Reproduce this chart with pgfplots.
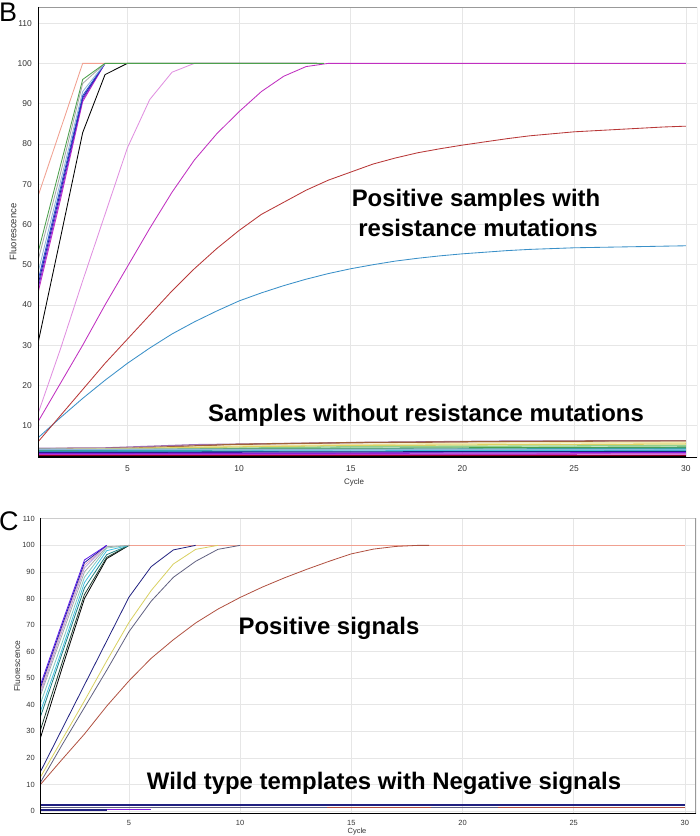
\documentclass[border=0pt]{standalone}
\usepackage{pgfplots}
\pgfplotsset{compat=1.18}
\usepackage{fontspec}
\setmainfont{Liberation Sans}
\definecolor{tickgray}{HTML}{333333}
\definecolor{gridgray}{HTML}{E6E6E6}
\definecolor{salmon}{HTML}{F0A090}
\definecolor{cgreen}{HTML}{4CA04C}
\definecolor{cgrey}{HTML}{A8A8A8}
\definecolor{clblue}{HTML}{8FB8D8}
\definecolor{cblue}{HTML}{3050D0}
\definecolor{cdblue}{HTML}{2020A0}
\definecolor{cpurple}{HTML}{8020E0}
\definecolor{cmag}{HTML}{C030C0}
\definecolor{corchid}{HTML}{E090E0}
\definecolor{cred}{HTML}{B83838}
\definecolor{csky}{HTML}{3A90C8}
\definecolor{cmauve}{HTML}{A070B0}
\definecolor{cbrown}{HTML}{A0603A}
\definecolor{clyel}{HTML}{F0E8B0}
\definecolor{cyel}{HTML}{E0D060}
\definecolor{clgreen}{HTML}{90D090}
\definecolor{cteal}{HTML}{30A0A0}
\definecolor{ccyan}{HTML}{40C0E0}
\definecolor{cnavy}{HTML}{202080}
\definecolor{cdred}{HTML}{900020}
\definecolor{cslate}{HTML}{606080}
\definecolor{cyellow}{HTML}{D8D060}
\definecolor{cbrownred}{HTML}{B05040}
\definecolor{cpink}{HTML}{E0A0C0}
\definecolor{clav}{HTML}{B0A0E0}
\definecolor{ctealL}{HTML}{80C8C0}
\definecolor{ctealD}{HTML}{208080}
\definecolor{cdgreen}{HTML}{204030}
\begin{document}
\begin{tikzpicture}[x=1bp,y=1bp]
\useasboundingbox (0,0) rectangle (700,836);
% ---------------- Panel B ----------------
\begin{axis}[
  at={(38bp,378bp)}, anchor=south west,
  scale only axis, width=659bp, height=451bp,
  xmin=1, xmax=30.5, ymin=2, ymax=114,
  xtick={5,10,...,30}, ytick={10,20,...,110},
  major tick length=0pt,
  grid=major, major grid style={color=gridgray, line width=0.6bp},
  axis line style={draw=none},
  /pgf/number format/assume math mode=true,
  xticklabel style={font=\fontsize{8.5}{9}\selectfont, text=tickgray, inner sep=0pt, yshift=-7bp},
  yticklabel style={font=\fontsize{8.5}{9}\selectfont, text=tickgray, inner sep=0pt, xshift=-6bp},
  every axis plot/.append style={line width=0.85bp},
]
% bottom cluster
\addplot[cmauve, line width=1.3bp] coordinates {(1,4.4)(4,4.5)(6,4.9)(8,5.3)(12,5.6)(16,5.9)(22,6.2)(30,6.3)};
\addplot[cbrown, line width=1.3bp] coordinates {(1,4.3)(5,4.4)(8,5.0)(10,5.4)(15,5.8)(20,6.0)(26,6.2)(30,6.2)};
\addplot[clyel, line width=1.3bp] coordinates {(1,4.1)(6,4.4)(10,5.0)(16,5.4)(22,5.7)(30,5.9)};
\addplot[cyel, line width=1.3bp] coordinates {(1,4.0)(8,4.6)(15,5.1)(30,5.5)};
\addplot[clgreen, line width=1.3bp] coordinates {(1,3.9)(8,4.3)(15,4.8)(30,5.1)};
\addplot[cgreen, line width=1.3bp] coordinates {(1,3.8)(5,4.0)(10,4.3)(30,4.7)};
\addplot[cteal, line width=1.3bp] coordinates {(1,3.7)(10,4.0)(30,4.4)};
\addplot[clblue, line width=1.3bp] coordinates {(1,4.2)(30,4.1)};
\addplot[ccyan, line width=1.3bp] coordinates {(1,3.6)(30,3.9)};
\addplot[cnavy, line width=1.3bp] coordinates {(1,3.4)(30,3.6)};
\addplot[cpurple, line width=1.3bp] coordinates {(1,3.1)(30,3.3)};
\addplot[cmag, line width=1.3bp] coordinates {(1,2.8)(30,3.0)};
\addplot[cdred, line width=1.3bp] coordinates {(1,2.6)(30,2.6)};
\addplot[black, line width=1.3bp] coordinates {(1,2.3)(30,2.3)};
% sky blue
\addplot[csky] coordinates {(1,7)(2,12)(3,16.8)(4,21.3)(5,25.5)(6,29.3)(7,32.8)(8,35.8)(9,38.5)(10,41)(11,43)(12,44.8)(13,46.4)(14,47.8)(15,49)(16,50)(17,50.9)(18,51.6)(19,52.2)(20,52.7)(21,53.1)(22,53.5)(23,53.8)(24,54)(25,54.2)(26,54.3)(27,54.4)(28,54.5)(29,54.6)(30,54.7)};
% red
\addplot[cred] coordinates {(1,6)(2,12.5)(3,19)(4,25.5)(5,31.5)(6,37.5)(7,43.5)(8,49)(9,54)(10,58.5)(11,62.5)(12,65.5)(13,68.5)(14,71)(15,73)(16,75)(17,76.5)(18,77.8)(19,78.8)(20,79.7)(21,80.5)(22,81.3)(23,82)(24,82.5)(25,83)(26,83.3)(27,83.6)(28,83.9)(29,84.2)(30,84.4)};
% magenta long
\addplot[cmag] coordinates {(1,11)(2,20.5)(3,30)(4,40)(5,49.5)(6,59)(7,68)(8,76)(9,82.5)(10,88)(11,93)(12,96.8)(13,99.2)(14,100)(30,100)};
% orchid
\addplot[corchid] coordinates {(1,13)(2,29)(3,46)(4,62.5)(5,79)(6,91)(7,97.8)(8,100)(13.5,100)};
% black
\addplot[black] coordinates {(1,30.5)(2,56.5)(3,82.8)(4,97.2)(5,100)(13.5,100)};
% salmon
\addplot[salmon] coordinates {(1,67)(2,83.5)(3,100)(5,100)};
% steep cluster
\addplot[cmag] coordinates {(1,43)(2,66)(3,90.5)(4,100)};
\addplot[cpurple] coordinates {(1,44)(2,67)(3,91)(4,100)};
\addplot[cdblue] coordinates {(1,45)(2,68)(3,91.5)(4,100)};
\addplot[cblue] coordinates {(1,46)(2,69)(3,92)(4,100)};
\addplot[clblue] coordinates {(1,48)(2,70.5)(3,93)(4,100)};
\addplot[cgrey] coordinates {(1,51)(2,72.5)(3,95)(4,100)};
\addplot[cgreen] coordinates {(1,53)(2,74.5)(3,96)(4,100)(13.8,100)};
\draw[gray!80, line width=0.9bp] (rel axis cs:0,1) -- (rel axis cs:1,1) -- (rel axis cs:1,0);
\draw[black, line width=1.8bp] (rel axis cs:0,1) -- (rel axis cs:0,0) -- (rel axis cs:1,0);
\end{axis}
\node[rotate=90, font=\fontsize{9.5}{10}\selectfont, text=tickgray] at (13,604) {Fluorescence};
\node[font=\fontsize{8}{9}\selectfont, text=tickgray] at (354,354) {Cycle};
\node[anchor=base, font=\fontsize{24}{26}\bfseries\selectfont] at (476,629) {Positive samples with};
\node[anchor=base, font=\fontsize{24}{26}\bfseries\selectfont] at (478,599) {resistance mutations};
\node[anchor=base, font=\fontsize{24}{26}\bfseries\selectfont] at (426,414) {Samples without resistance mutations};
\node[anchor=base west, inner sep=0pt, font=\fontsize{27}{29}\selectfont] at (-1,814) {B};
% ---------------- Panel C ----------------
\begin{axis}[
  at={(40bp,22bp)}, anchor=south west,
  scale only axis, width=656bp, height=296bp,
  xmin=1, xmax=30.5, ymin=-1.1, ymax=110.3,
  xtick={5,10,...,30}, ytick={0,10,...,110},
  major tick length=0pt,
  grid=major, major grid style={color=gridgray, line width=0.6bp},
  axis line style={draw=none},
  /pgf/number format/assume math mode=true,
  xticklabel style={font=\fontsize{7.5}{8}\selectfont, text=tickgray, inner sep=0pt, yshift=-6bp},
  yticklabel style={font=\fontsize{7.5}{8}\selectfont, text=tickgray, inner sep=0pt, xshift=-5bp},
  every axis plot/.append style={line width=0.8bp},
]
% bottom lines
\addplot[cnavy, line width=1.2bp] coordinates {(1,2.3)(30,2.3)};
\addplot[cslate, line width=1.4bp] coordinates {(1,1.3)(13.9,1.3)};
\addplot[cbrownred, line width=1.4bp] coordinates {(13.9,1.3)(18.6,1.3)};
\addplot[cslate, line width=1.4bp] coordinates {(18.6,1.3)(21.6,1.3)};
\addplot[cbrownred, line width=1.4bp] coordinates {(21.6,1.3)(30,1.3)};
\addplot[cpurple, line width=1.2bp] coordinates {(4,0.6)(6,0.6)};
\addplot[cnavy, line width=1.2bp] coordinates {(1,0.4)(4,0.4)};
% top salmon line
\addplot[salmon] coordinates {(5,100)(30,100)};
% brown-red
\addplot[cbrownred] coordinates {(1,9.8)(2,19.5)(3,29)(4,39.5)(5,49)(6,57.5)(7,64.5)(8,70.8)(9,76)(10,80.4)(11,84.3)(12,87.8)(13,91)(14,94)(15,96.8)(16,98.6)(17,99.6)(18,100)(18.5,100)};
% slate
\addplot[cslate] coordinates {(1,10.5)(2,25)(3,39)(4,53)(5,67.5)(6,79)(7,88)(8,94)(9,98.5)(10,100)};
% yellow
\addplot[cyellow] coordinates {(1,12.5)(2,27)(3,41.5)(4,56.5)(5,71)(6,83)(7,93)(8,98.5)(9,100)};
% navy
\addplot[cnavy] coordinates {(1,14.5)(2,31)(3,47.5)(4,64)(5,80.5)(6,92)(7,98.3)(8,100)};
% steep cluster
\addplot[black] coordinates {(1,27)(2,54)(3,80)(4,95)(5,100)};
\addplot[cdgreen] coordinates {(1,30)(2,56)(3,81.5)(4,95.5)(5,100)};
\addplot[ctealD] coordinates {(1,35)(2,59.5)(3,84)(4,96.5)(5,100)};
\addplot[ccyan] coordinates {(1,37)(2,61)(3,86)(4,98)(5,100)};
\addplot[ctealL] coordinates {(1,40)(2,63.5)(3,88)(4,99)(5,100)};
\addplot[cgrey] coordinates {(1,43)(2,66.5)(3,90)(4,99.5)(5,100)};
\addplot[clav] coordinates {(1,44)(2,68)(3,91.5)(4,100)};
\addplot[cpink] coordinates {(1,45)(2,69)(3,92.5)(4,100)};
\addplot[cdblue] coordinates {(1,46)(2,70)(3,93.5)(4,100)};
\addplot[cpurple!70!blue] coordinates {(1,47)(2,71)(3,94.5)(4,100)};
\draw[gray!40, line width=0.8bp] (rel axis cs:0,1) -- (rel axis cs:1,1);
\draw[gray!80, line width=1.4bp] (rel axis cs:1,1) -- (rel axis cs:1,0);
\draw[black, line width=1.6bp] (rel axis cs:0,1) -- (rel axis cs:0,0) -- (rel axis cs:1,0);
\end{axis}
\node[rotate=90, font=\fontsize{8.5}{9}\selectfont, text=tickgray] at (17,170) {Fluorescence};
\node[font=\fontsize{7.5}{8}\selectfont, text=tickgray] at (357,4) {Cycle};
\node[anchor=base, font=\fontsize{24}{26}\bfseries\selectfont] at (329,201) {Positive signals};
\node[anchor=base, font=\fontsize{24}{26}\bfseries\selectfont] at (384,46) {Wild type templates with Negative signals};
\node[anchor=base west, inner sep=0pt, font=\fontsize{27}{29}\selectfont] at (-1,305) {C};
\end{tikzpicture}
\end{document}
